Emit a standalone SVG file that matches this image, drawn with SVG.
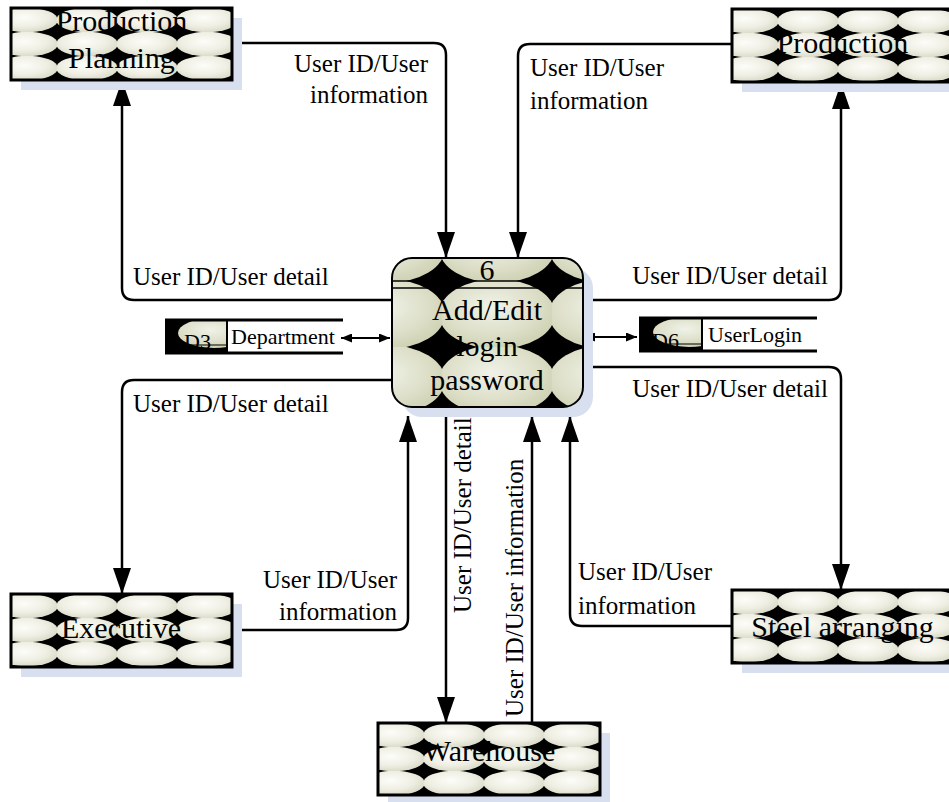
<svg xmlns="http://www.w3.org/2000/svg" width="949" height="802" viewBox="0 0 949 802">
<style>
.lbl{font-family:"Liberation Serif","Times New Roman",serif;font-size:25px;fill:#000}
.big{font-family:"Liberation Serif","Times New Roman",serif;font-size:30px;fill:#000;text-anchor:middle}
.sm{font-family:"Liberation Serif","Times New Roman",serif;font-size:22px;fill:#000}
.box{fill:url(#tile);stroke:#000;stroke-width:3}
.shadow{fill:#d8e0f0}
.con{fill:none;stroke:#000;stroke-width:2.5}
.thin{fill:none;stroke:#000;stroke-width:2}
</style>
<defs>
<radialGradient id="eg" cx="45%" cy="40%" r="60%">
<stop offset="0" stop-color="#fdfdf9"/>
<stop offset="0.6" stop-color="#efefe4"/>
<stop offset="1" stop-color="#dcdccb"/>
</radialGradient>
<radialGradient id="eg2" cx="45%" cy="40%" r="60%">
<stop offset="0" stop-color="#f0f2e8"/>
<stop offset="0.6" stop-color="#dfe1cc"/>
<stop offset="1" stop-color="#d0d2b4"/>
</radialGradient>
<pattern id="tile" patternUnits="userSpaceOnUse" x="-14" y="0" width="60" height="24">
<rect width="60" height="24" fill="#000"/>
<ellipse cx="30" cy="12" rx="30.8" ry="12.2" fill="url(#eg)"/>
</pattern>
<pattern id="tile2" patternUnits="userSpaceOnUse" x="442" y="281" width="110" height="66">
<rect width="110" height="66" fill="#000"/>
<ellipse cx="55" cy="33" rx="58" ry="35" fill="url(#eg2)"/>
</pattern>
<marker id="ah" markerUnits="userSpaceOnUse" markerWidth="26" markerHeight="18" refX="26" refY="9" orient="auto">
<path d="M0,0 L26,9 L0,18 z" fill="#000"/>
</marker>
<marker id="sa" markerUnits="userSpaceOnUse" markerWidth="11" markerHeight="9" refX="11" refY="4.5" orient="auto-start-reverse">
<path d="M0,0 L11,4.5 L0,9 z" fill="#000"/>
</marker>
<clipPath id="c3"><rect x="165" y="320" width="62" height="33"/></clipPath>
<clipPath id="c6"><rect x="639" y="318" width="63" height="33"/></clipPath>
</defs>
<rect width="949" height="802" fill="#fff"/>

<g id="connectors">
<path class="con" d="M232,43 H434 Q446,43 446,55 V258" marker-end="url(#ah)"/>
<path class="con" d="M392,300 H134 Q122,300 122,288 V80" marker-end="url(#ah)"/>
<path class="con" d="M732,44 H530 Q518,44 518,56 V258" marker-end="url(#ah)"/>
<path class="con" d="M583,300 H829 Q841,300 841,288 V83" marker-end="url(#ah)"/>
<path class="con" d="M392,380 H134 Q122,380 122,392 V594" marker-end="url(#ah)"/>
<path class="con" d="M232,630 H396 Q408,630 408,618 V416" marker-end="url(#ah)"/>
<path class="con" d="M583,367 H829 Q841,367 841,379 V590" marker-end="url(#ah)"/>
<path class="con" d="M732,626 H582 Q570,626 570,614 V416" marker-end="url(#ah)"/>
<path class="con" d="M446,407 V723" marker-end="url(#ah)"/>
<path class="con" d="M532,723 V416" marker-end="url(#ah)"/>
<path class="thin" d="M341,338 H390" marker-start="url(#sa)" marker-end="url(#sa)"/>
<path class="thin" d="M584,337 H637" marker-start="url(#sa)" marker-end="url(#sa)"/>
<text class="lbl" x="428" y="72" text-anchor="end">User ID/User</text>
<text class="lbl" x="428" y="103" text-anchor="end">information</text>
<text class="lbl" x="133" y="285">User ID/User detail</text>
<text class="lbl" x="530" y="76">User ID/User</text>
<text class="lbl" x="530" y="109">information</text>
<text class="lbl" x="828" y="284" text-anchor="end">User ID/User detail</text>
<text class="lbl" x="133" y="412">User ID/User detail</text>
<text class="lbl" x="397" y="588" text-anchor="end">User ID/User</text>
<text class="lbl" x="397" y="620" text-anchor="end">information</text>
<text class="lbl" x="828" y="397" text-anchor="end">User ID/User detail</text>
<text class="lbl" x="578" y="580">User ID/User</text>
<text class="lbl" x="578" y="614">information</text>
<text class="lbl" x="471" y="613" transform="rotate(-90 471 613)">User ID/User detail</text>
<text class="lbl" x="523" y="717" transform="rotate(-90 523 717)">User ID/User information</text>
</g>

<g id="process6">
<rect class="shadow" x="402" y="268" width="191" height="149" rx="20"/>
<rect x="392" y="258" width="191" height="149" rx="20" fill="url(#tile2)" stroke="#000" stroke-width="2"/>
<line x1="392" y1="281" x2="583" y2="281" stroke="#000" stroke-width="1.5"/>
<line x1="392" y1="288" x2="583" y2="288" stroke="#000" stroke-width="1.5"/>
<text class="big" x="487" y="280">6</text>
<text class="big" x="487" y="320">Add/Edit</text>
<text class="big" x="487" y="356">login</text>
<text class="big" x="487" y="390">password</text>
</g>

<g id="production-planning" transform="translate(11,8)">
<rect class="shadow" x="10" y="10" width="221" height="72"/>
<rect class="box" x="0" y="0" width="221" height="72"/>
<text class="big" x="110.5" y="23">Production</text>
<text class="big" x="110.5" y="60">Planning</text>
</g>

<g id="production" transform="translate(732,9)">
<rect class="shadow" x="10" y="10" width="221" height="73"/>
<rect class="box" x="0" y="0" width="221" height="73"/>
<text class="big" x="110.5" y="44">Production</text>
</g>

<g id="executive" transform="translate(11,594)">
<rect class="shadow" x="10" y="10" width="221" height="73"/>
<rect class="box" x="0" y="0" width="221" height="73"/>
<text class="big" x="110" y="44">Executive</text>
</g>

<g id="steel-arranging" transform="translate(732,590)">
<rect class="shadow" x="10" y="10" width="221" height="73"/>
<rect class="box" x="0" y="0" width="221" height="73"/>
<text class="big" x="110.5" y="47">Steel arranging</text>
</g>

<g id="warehouse" transform="translate(378,723)">
<rect class="shadow" x="10" y="10" width="222" height="72"/>
<rect class="box" x="0" y="0" width="222" height="72"/>
<text class="big" x="111" y="38">Warehouse</text>
</g>

<g id="d3-department">
<rect x="165" y="320" width="62" height="33" fill="#000"/>
<ellipse cx="214" cy="333" rx="36" ry="15" fill="url(#eg2)" clip-path="url(#c3)"/>
<line x1="170" y1="345" x2="227" y2="345" stroke="#000" stroke-width="1"/>
<text class="sm" x="184" y="349">D3</text>
<path d="M165,320 H343 M165,353 H343" stroke="#000" stroke-width="3" fill="none"/>
<path d="M227,320 V353" stroke="#000" stroke-width="2"/>
<text class="sm" x="231" y="344">Department</text>
</g>

<g id="d6-userlogin">
<rect x="639" y="318" width="63" height="33" fill="#000"/>
<ellipse cx="689" cy="332" rx="36" ry="15" fill="url(#eg2)" clip-path="url(#c6)"/>
<line x1="644" y1="344" x2="702" y2="344" stroke="#000" stroke-width="1"/>
<text class="sm" x="652" y="348">D6</text>
<path d="M639,318 H817 M639,351 H817" stroke="#000" stroke-width="3" fill="none"/>
<path d="M702,318 V351" stroke="#000" stroke-width="2"/>
<text class="sm" x="708" y="342">UserLogin</text>
</g>
</svg>
